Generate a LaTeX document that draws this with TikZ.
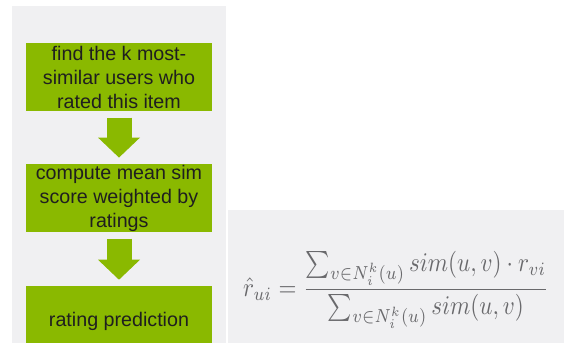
\documentclass[tikz,border=0pt]{standalone}
\usepackage{amsmath}
\usepackage{graphicx}
\usepackage{fontspec}
\setsansfont{Liberation Sans}
\usepackage{xcolor}
\usepackage{tikz}
\usetikzlibrary{arrows.meta,positioning}

\definecolor{leafgreen}{RGB}{138,185,0}
\definecolor{panelgray}{RGB}{240,240,242}
\definecolor{formulagray}{RGB}{105,105,108}

\begin{document}
\begin{tikzpicture}[
  x=0.03cm, y=-0.03cm,
  stepbox/.style={rectangle, fill=leafgreen, inner sep=0pt, minimum width=5.58cm, minimum height=2.06cm,
    align=center, text=black!88, font=\sffamily\fontsize{16.8}{20.5}\selectfont},
  flowarrow/.style={draw=leafgreen, line width=0.75cm, -{Triangle[width=1.26cm, length=0.6cm, line width=0pt]}}
]
  \clip (0,0) rectangle (564,343);
  \fill[panelgray] (12,6) rectangle (226,343);
  \fill[panelgray] (228,210) rectangle (564,343);

  \node[stepbox] (neighbours) at (119,77) {find the k most-\\similar users who\\rated this item};
  \node[stepbox, below=1.56cm of neighbours] (weighted) {compute mean sim\\score weighted by\\ratings};
  \node[stepbox, below=1.59cm of weighted, minimum height=2.1cm] (predict) {rating prediction};

  \draw[flowarrow] ([yshift=-0.18cm]neighbours.south) -- ([yshift=0.18cm]weighted.north);
  \draw[flowarrow] ([yshift=-0.18cm]weighted.south) -- ([yshift=0.18cm]predict.north);

  \node[text=formulagray] (formula) at (396,290)
    {\scalebox{1.97}[2.3]{$\hat{r}_{ui} = \dfrac{\sum_{v\in N_i^k(u)} sim(u,v)\cdot r_{vi}}{\sum_{v\in N_i^k(u)} sim(u,v)}$}};
\end{tikzpicture}
\end{document}
